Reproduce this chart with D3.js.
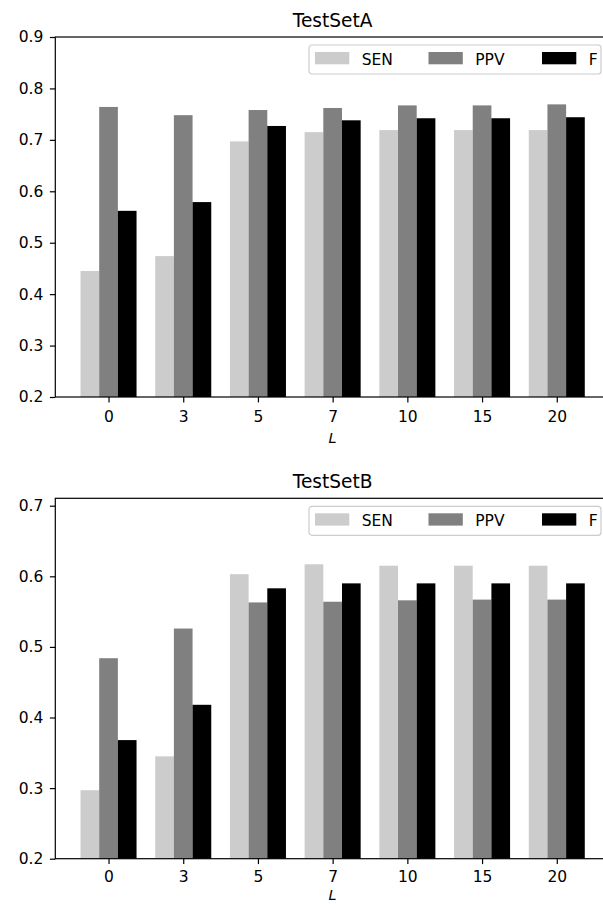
<!DOCTYPE html>
<html>
<head>
<meta charset="utf-8">
<script src="https://cdn.jsdelivr.net/npm/d3@7"></script>
<style>
  body { margin: 0; background: #fff; }
  text { font-family: "DejaVu Sans", sans-serif; fill: #000; }
</style>
</head>
<body>
<div id="chart"></div>
<script>
// DATA
const lValues = ["0", "3", "5", "7", "10", "15", "20"]
const seriesNames = ["SEN", "PPV", "F"]
const seriesColors = ["#cccccc", "#808080", "#000000"]

const senA = [0.445, 0.474, 0.697, 0.715, 0.719, 0.719, 0.719]
const ppvA = [0.764, 0.748, 0.758, 0.762, 0.767, 0.767, 0.769]
const fA   = [0.562, 0.579, 0.727, 0.738, 0.742, 0.742, 0.744]

const senB = [0.297, 0.345, 0.603, 0.617, 0.615, 0.615, 0.615]
const ppvB = [0.484, 0.526, 0.563, 0.564, 0.566, 0.567, 0.567]
const fB   = [0.368, 0.418, 0.583, 0.590, 0.590, 0.590, 0.590]

const ticksA = [0.2, 0.3, 0.4, 0.5, 0.6, 0.7, 0.8, 0.9]
const ticksB = [0.2, 0.3, 0.4, 0.5, 0.6, 0.7]

const width = 603, height = 904
const fontTick = 15.5, fontTitle = 18.6

const svg = d3.select("#chart")
    .append("svg")
    .attr("width", width)
    .attr("height", height)

// x positions shared by both panels
const xScale = d3.scaleLinear()
    .domain([-0.7125, 6.7125])
    .range([55.3, 610])
const barW = 0.25

function drawPanel(cfg) {
    const yScale = d3.scaleLinear()
        .domain([0.2, cfg.ymax])
        .range([cfg.bottom, cfg.top])

    const g = svg.append("g")
    const series = [cfg.sen, cfg.ppv, cfg.f]

    // BARS
    series.forEach((vals, k) => {
        g.append("g")
            .selectAll("rect")
            .data(vals)
            .join("rect")
            .attr("x", (d, i) => xScale(i + (k - 1) * barW - barW / 2))
            .attr("width", xScale(barW) - xScale(0))
            .attr("y", d => yScale(d))
            .attr("height", d => yScale(0.2) - yScale(d))
            .attr("fill", seriesColors[k])
    })

    // AXES
    const xAxis = d3.axisBottom(xScale)
        .tickValues(d3.range(lValues.length))
        .tickFormat(i => lValues[i])
        .tickSize(5.4)
        .tickPadding(cfg.xPad)
    const yAxis = d3.axisLeft(yScale)
        .tickValues(cfg.ticks)
        .tickFormat(d3.format(".1f"))
        .tickSize(5.4)
        .tickPadding(6.6)

    const gx = g.append("g")
        .attr("transform", `translate(0, ${cfg.bottom})`)
        .call(xAxis)
    const gy = g.append("g")
        .attr("transform", `translate(${xScale.range()[0]}, 0)`)
        .call(yAxis)
    ;[gx, gy].forEach(a => {
        a.attr("font-size", fontTick).attr("font-family", "DejaVu Sans")
        a.select(".domain").remove()
        a.selectAll(".tick line").attr("stroke", "#000").attr("stroke-width", 1.2)
        a.selectAll(".tick text").attr("fill", "#000")
    })

    // SPINES
    g.append("rect")
        .attr("x", xScale.range()[0])
        .attr("y", cfg.top)
        .attr("width", xScale.range()[1] - xScale.range()[0])
        .attr("height", cfg.bottom - cfg.top)
        .attr("fill", "none")
        .attr("stroke", "#000")
        .attr("stroke-width", 1.2)

    // TITLE and x label
    const cx = (xScale.range()[0] + xScale.range()[1]) / 2
    g.append("text")
        .attr("x", cx)
        .attr("y", cfg.top - 10.5)
        .attr("text-anchor", "middle")
        .attr("font-size", fontTitle)
        .text(cfg.title)
    g.append("text")
        .attr("x", cx)
        .attr("y", cfg.bottom + cfg.labelGap)
        .attr("text-anchor", "middle")
        .attr("font-size", 14.5)
        .attr("font-style", "italic")
        .text("L")

    // LEGEND
    const lg = g.append("g").attr("transform", `translate(309, ${cfg.top + 8})`)
    lg.append("rect")
        .attr("width", 292)
        .attr("height", 29)
        .attr("rx", 3)
        .attr("fill", "#fff")
        .attr("fill-opacity", 0.8)
        .attr("stroke", "#cccccc")
        .attr("stroke-width", 1.2)
    lg.selectAll(".item")
        .data(seriesNames)
        .join("g")
        .attr("class", "item")
        .attr("transform", (d, i) => `translate(${6 + i * 113.5}, 0)`)
        .each(function (d, i) {
            const it = d3.select(this)
            it.append("rect")
                .attr("y", 7)
                .attr("width", 34.3)
                .attr("height", 12.3)
                .attr("fill", seriesColors[i])
            it.append("text")
                .attr("x", 46.7)
                .attr("y", 20)
                .attr("font-size", fontTick)
                .text(d)
        })
}

drawPanel({ title: "TestSetA", top: 37, bottom: 397, ymax: 0.9, ticks: ticksA, xPad: 8.4, labelGap: 45.5, sen: senA, ppv: ppvA, f: fA })
drawPanel({ title: "TestSetB", top: 498.3, bottom: 858.7, ymax: 0.7105, ticks: ticksB, xPad: 7.4, labelGap: 41.3, sen: senB, ppv: ppvB, f: fB })
</script>
</body>
</html>
